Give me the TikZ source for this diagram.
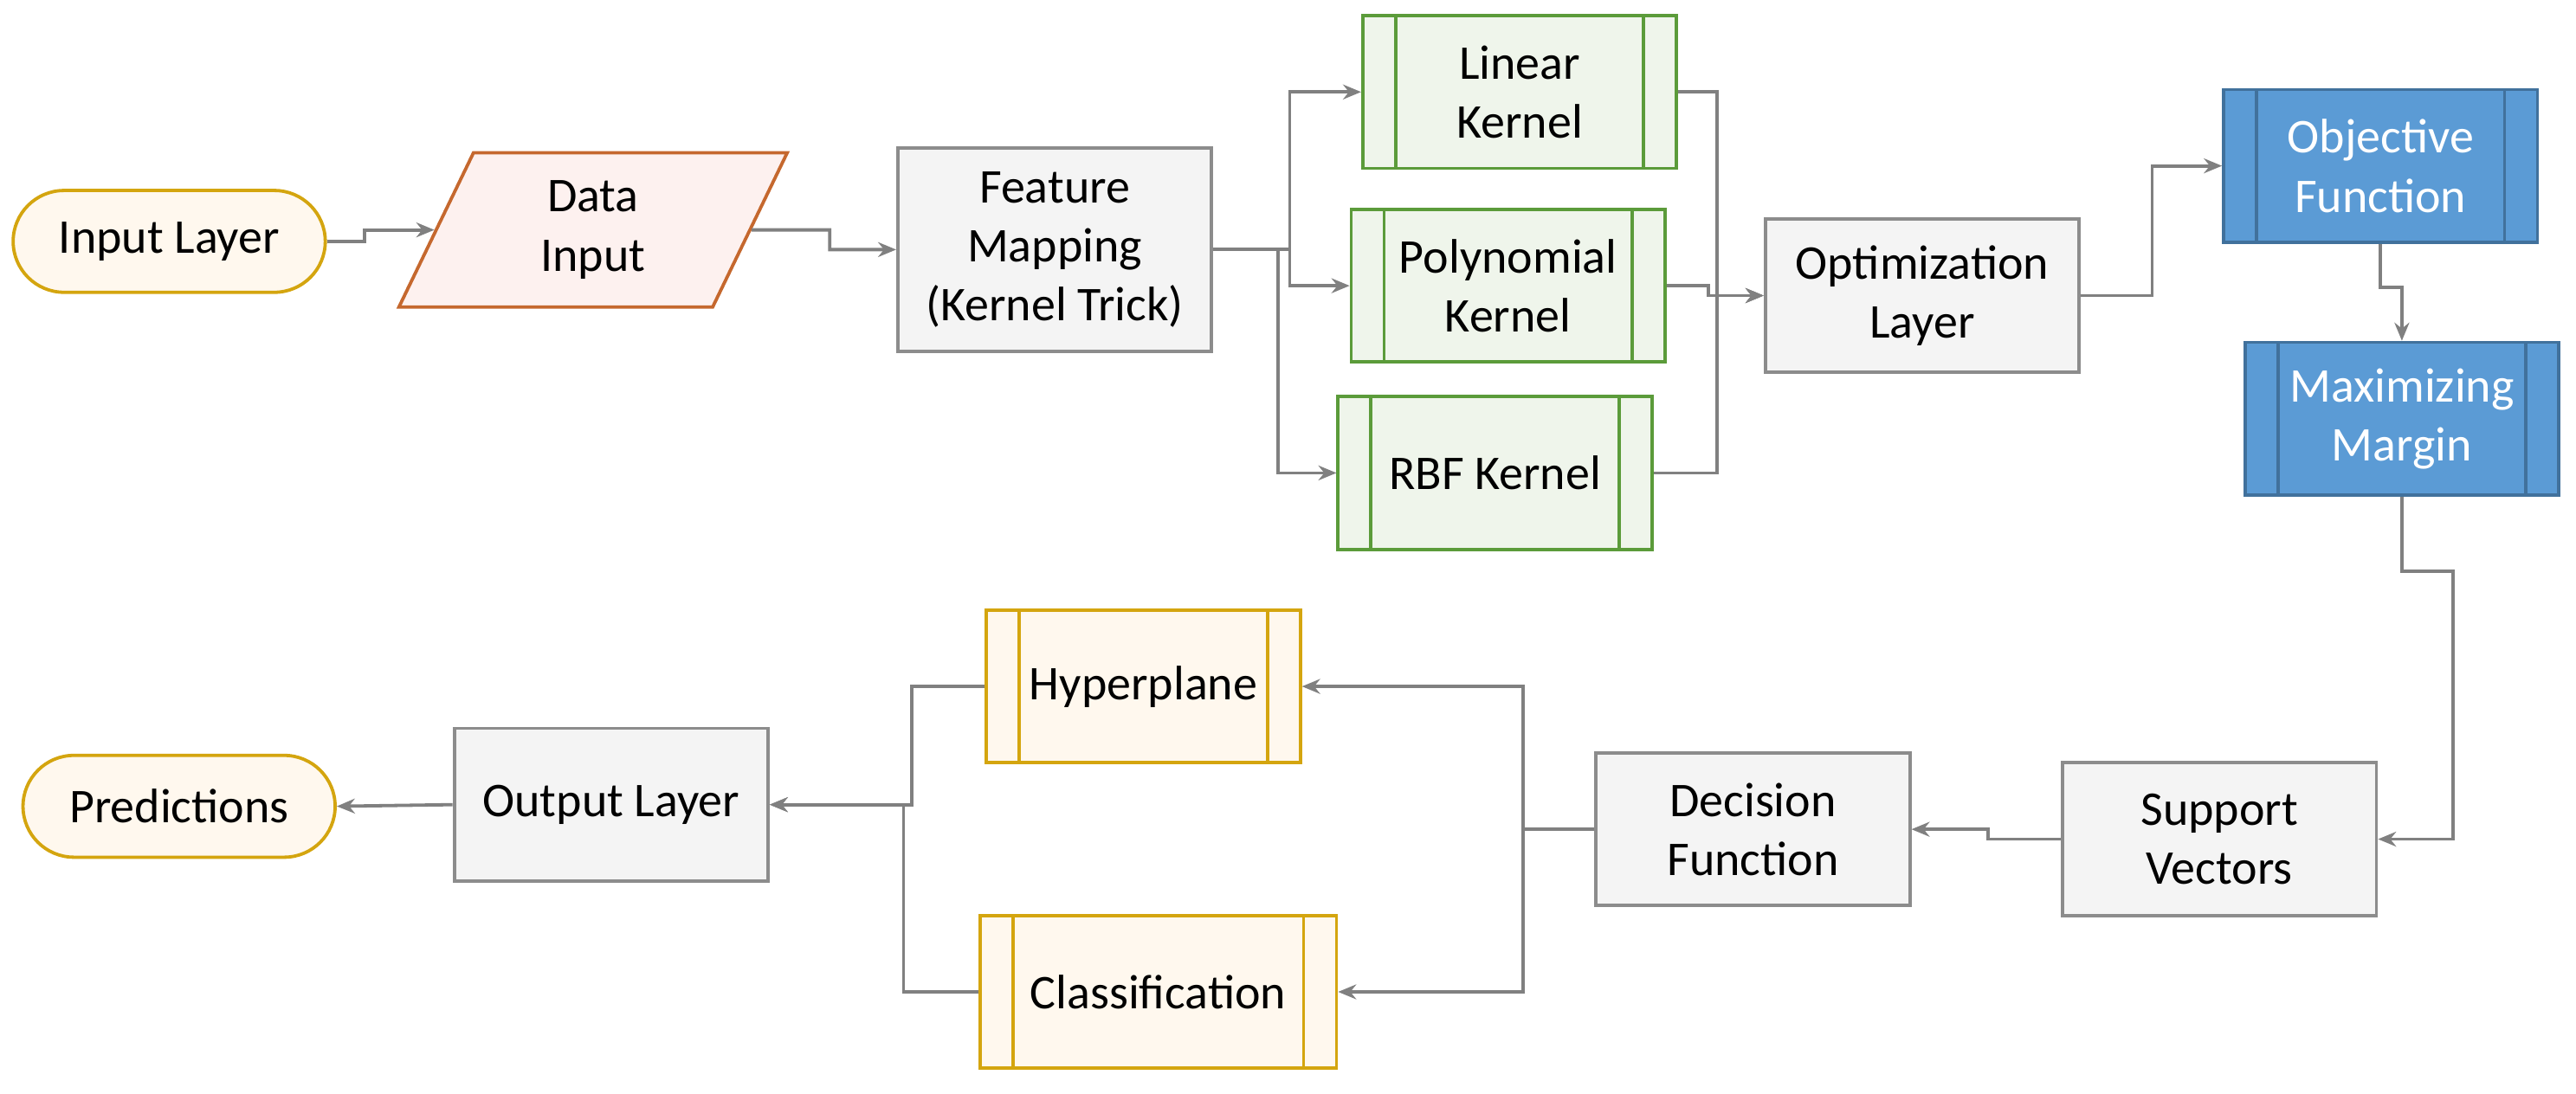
\documentclass[tikz,border=0pt]{standalone}
\usepackage{fontspec}
\setmainfont{Carlito}
\usetikzlibrary{shapes.geometric,arrows.meta}
\definecolor{gborder}{HTML}{8C8C8C}
\definecolor{gfill}{HTML}{F4F4F4}
\definecolor{grnb}{HTML}{5B9B3A}
\definecolor{grnf}{HTML}{EFF5EB}
\definecolor{blub}{HTML}{41719C}
\definecolor{bluf}{HTML}{5B9BD5}
\definecolor{goldb}{HTML}{D4A50F}
\definecolor{goldf}{HTML}{FFF8EE}
\definecolor{orb}{HTML}{C5682E}
\definecolor{orf}{HTML}{FDF1EF}
\definecolor{lin}{HTML}{808080}
\tikzset{
 x=1pt,y=-1pt,
 base/.style={draw,line width=2pt,align=center,font=\fontsize{29.5}{36}\selectfont,inner sep=2pt},
 box/.style={base,rectangle,draw=gborder,fill=gfill,minimum width=191pt,minimum height=93pt},
 pill/.style={base,rounded corners=31pt,draw=goldb,fill=goldf,minimum width=190pt,minimum height=62pt},
 pp/.style={box,path picture={\draw[line width=2pt,draw=#1]
   ([xshift=20pt]path picture bounding box.north west) -- ([xshift=20pt]path picture bounding box.south west)
   ([xshift=-20pt]path picture bounding box.north east) -- ([xshift=-20pt]path picture bounding box.south east);}},
 grn/.style={pp=grnb,draw=grnb,fill=grnf},
 blu/.style={pp=blub,draw=blub,fill=bluf,text=white},
 gld/.style={pp=goldb,draw=goldb,fill=goldf},
 con/.style={draw=lin,line width=2pt,-{Stealth[length=11pt,width=9pt]}},
}
\begin{document}
\begin{tikzpicture}
\useasboundingbox (0,0) rectangle (1568,666);
\node[pill] (in) at (103,147) {Input Layer};
\node[base,trapezium,trapezium left angle=63,trapezium right angle=117,draw=orb,fill=orf,minimum width=237pt,minimum height=94pt,trapezium stretches=true,text width=100pt] (data) at (361,140) {Data\\Input};
\node[box,minimum height=124pt] (feat) at (642,152) {Feature\\Mapping\\(Kernel Trick)};
\node[grn] (linear) at (925,56) {Linear\\Kernel};
\node[grn] (poly) at (918,174) {Polynomial\\Kernel};
\node[grn] (rbf) at (910,288) {RBF Kernel};
\node[box] (opt) at (1170,180) {Optimization\\Layer};
\node[blu] (obj) at (1449,101) {Objective\\Function};
\node[blu] (max) at (1462,255) {Maximizing\\Margin};
\node[box] (sup) at (1351,511) {Support\\Vectors};
\node[box] (dec) at (1067,505) {Decision\\Function};
\node[gld] (hyp) at (696,418) {Hyperplane};
\node[gld,minimum width=217pt] (cls) at (705,604) {Classification};
\node[box] (out) at (372,490) {Output Layer};
\node[pill] (pred) at (109,491) {Predictions};
\coordinate (j1) at (222,147);
\draw[con] (in.east) -- (j1) |- (data);
\draw[con] (data.east) -- (505,140) |- (feat.west);
\draw[con] (feat.east) -- (785,152) |- (linear.west);
\draw[con] (feat.east) -- (785,152) |- (poly.west);
\draw[con] (feat.east) -- (778,152) |- (rbf.west);
\draw[con] (linear.east) -- (1045,56) |- (opt.west);
\draw[con] (poly.east) -- (1040,174) |- (opt.west);
\draw[con] (rbf.east) -- (1045,288) |- (opt.west);
\draw[con] (opt.east) -- (1310,180) |- (obj.west);
\draw[con] (obj.south) -- (1449,175) -| (max.north);
\draw[con] (max.south) -- (1462,348) -| (1493,511) -- (sup.east);
\draw[con] (sup.west) -- (1210,511) |- (dec.east);
\draw[con] (dec.west) -- (927,505) |- (hyp.east);
\draw[con] (dec.west) -- (927,505) |- (cls.east);
\draw[con] (hyp.west) -- (555,418) |- (out.east);
\draw[con] (cls.west) -- (550,604) |- (out.east);
\draw[con] (out.west) -- (pred.east);
\end{tikzpicture}
\end{document}
